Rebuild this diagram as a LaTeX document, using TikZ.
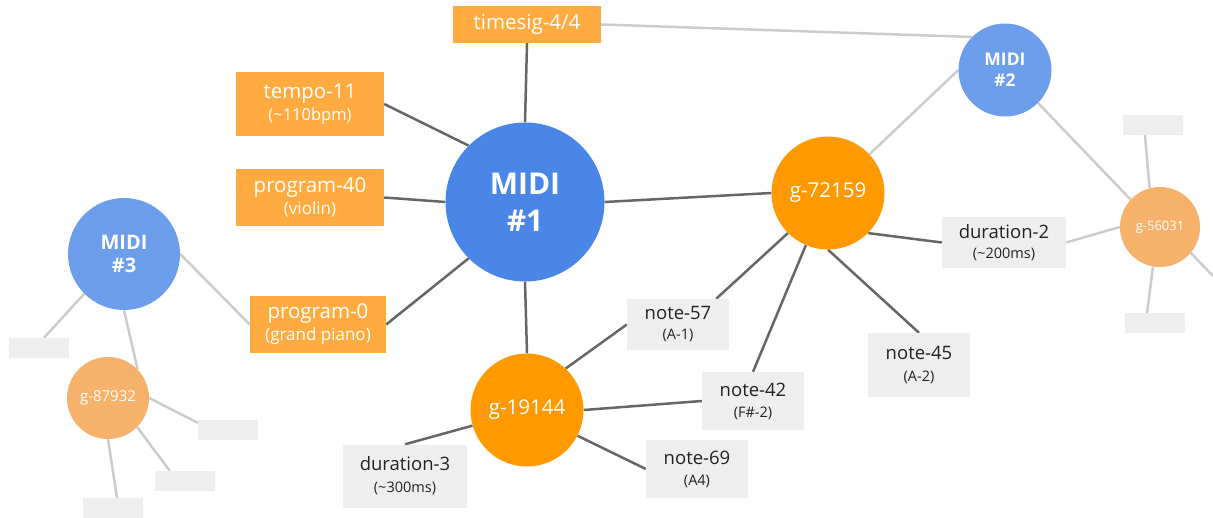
\documentclass[tikz,border=0pt]{standalone}
\usepackage{fontspec}
\setmainfont{Open Sans}
\usetikzlibrary{backgrounds}

\definecolor{midiblue}{HTML}{4A86E8}
\definecolor{midilight}{HTML}{6D9EEB}
\definecolor{grouporange}{HTML}{FF9900}
\definecolor{grouplight}{HTML}{F6B26B}
\definecolor{eventorange}{HTML}{FFAB40}
\definecolor{notegrey}{HTML}{EEEEEE}
\definecolor{linkdark}{HTML}{666666}
\definecolor{linklight}{HTML}{CCCCCC}
\definecolor{inktext}{HTML}{222222}

\newcommand{\setfs}[2]{\fontsize{#1}{#2}\selectfont}

\tikzset{
  midinode/.style={circle, inner sep=0pt, text=white, align=center},
  groupnode/.style={circle, inner sep=0pt, text=white, align=center},
  eventbox/.style={rectangle, fill=eventorange, text=white, inner sep=0pt, align=center},
  notebox/.style={rectangle, fill=notegrey, text=inktext, inner sep=0pt, align=center},
  blankbox/.style={rectangle, fill=notegrey, minimum width=60pt, minimum height=20pt, inner sep=0pt},
  link/.style={draw=linkdark, line width=2.5pt},
  faint/.style={draw=linklight, line width=2.5pt}
}

\begin{document}
\begin{tikzpicture}[x=1pt, y=-1pt]
\useasboundingbox (0,0) rectangle (1213,518);

% MIDI files
\node[midinode, fill=midiblue, minimum size=159pt, font=\bfseries\setfs{30}{37}] (m1) at (525,202) {MIDI\\\#1};
\node[midinode, fill=midilight, minimum size=93pt, font=\bfseries\setfs{17.5}{21}] (m2) at (1005,70) {MIDI\\\#2};
\node[midinode, fill=midilight, minimum size=112pt, font=\bfseries\setfs{20}{23}] (m3) at (124,254) {MIDI\\\#3};

% note groups
\node[groupnode, fill=grouporange, minimum size=113pt, font=\setfs{20.5}{24}] (g72) at (828,193) {g-72159};
\node[groupnode, fill=grouporange, minimum size=113pt, font=\setfs{20.5}{24}] (g19) at (527,410) {g-19144};
\node[groupnode, fill=grouplight, minimum size=80pt, font=\setfs{13}{16}] (g56) at (1160,227) {g-56031};
\node[groupnode, fill=grouplight, minimum size=82pt, font=\setfs{15}{18}] (g87) at (108,398) {g-87932};

% file-level events
\node[eventbox, minimum width=148pt, minimum height=37pt, font=\setfs{20.5}{22}] (ts) at (527,24.5) {timesig-4/4};
\node[eventbox, minimum width=148pt, minimum height=64pt, font=\setfs{20.5}{22}] (tempo) at (310,104)
  {tempo-11\\{\setfs{16.5}{22}(\textasciitilde110bpm)}};
\node[eventbox, minimum width=148pt, minimum height=57pt, font=\setfs{20.5}{22}] (p40) at (310,197.5)
  {program-40\\{\setfs{17}{22}(violin)}};
\node[eventbox, minimum width=136pt, minimum height=57pt, font=\setfs{20.5}{22}] (p0) at (318,324.5)
  {program-0\\{\setfs{17}{22}(grand piano)}};

% note events
\node[notebox, minimum width=102pt, minimum height=51pt, font=\setfs{18.5}{20}] (n57) at (678,324.5)
  {note-57\\{\setfs{14.5}{20}(A-1)}};
\node[notebox, minimum width=102pt, minimum height=58pt, font=\setfs{18.5}{21}] (n42) at (753,401)
  {note-42\\{\setfs{14.5}{21}(F\#-2)}};
\node[notebox, minimum width=102pt, minimum height=58pt, font=\setfs{18.5}{21}] (n69) at (697,469)
  {note-69\\{\setfs{14.5}{21}(A4)}};
\node[notebox, minimum width=102pt, minimum height=64pt, font=\setfs{18.5}{22}] (n45) at (919,365)
  {note-45\\{\setfs{14.5}{22}(A-2)}};
\node[notebox, minimum width=124pt, minimum height=51pt, font=\setfs{18.5}{20}] (d2) at (1004,242.5)
  {duration-2\\{\setfs{14.5}{20}(\textasciitilde200ms)}};
\node[notebox, minimum width=124pt, minimum height=63pt, font=\setfs{18.5}{22}] (d3) at (405,476)
  {duration-3\\{\setfs{14.5}{22}(\textasciitilde300ms)}};

% unlabelled events
\node[blankbox] (bl1) at (39,348) {};
\node[blankbox] (bl2) at (228,430) {};
\node[blankbox] (bl3) at (185,481) {};
\node[blankbox] (bl4) at (113,508) {};
\node[blankbox] (br1) at (1153,125) {};
\node[blankbox] (br2) at (1155,323.5) {};
\coordinate (offr) at (1213,276);

\begin{pgfonlayer}{background}
  % MIDI #1 links
  \draw[link] (m1.north) -- (ts.south);
  \draw[link] (tempo.east) -- (m1.135);
  \draw[link] (p40.east) -- (m1.west);
  \draw[link] (p0.east) -- (m1.225);
  \draw[link] (m1.east) -- (g72.west);
  \draw[link] (m1.south) -- (g19.north);
  % g-72159 links
  \draw[link] (g72.-45) -- (d2.west);
  \draw[link] (g72.225) -- ([xshift=-13pt]n57.north east);
  \draw[link] (g72.247) -- (n42.north);
  \draw[link] (g72.south) -- (n45.north);
  % g-19144 links
  \draw[link] (g19.47) -- (n57.west);
  \draw[link] (g19.east) -- (n42.west);
  \draw[link] (g19.-27) -- (n69.west);
  \draw[link] (g19.196) -- (d3.north);
  % links to other files
  \draw[faint] (g72.43) -- (m2.west);
  \draw[faint] (ts.east) -- (m2.135);
  \draw[faint] (m2.-45) -- (g56.137);
  \draw[faint] (d2.east) -- (g56.west);
  \draw[faint] (g56.105) -- ([xshift=-8pt]br1.south);
  \draw[faint] (g56.-100) -- ([xshift=-8pt]br2.north);
  \draw[faint] (g56.-40) -- (offr);
  \draw[faint] (m3.east) -- (p0.west);
  \draw[faint] (m3.225) -- ([xshift=5pt]bl1.north);
  \draw[faint] (m3.south) -- (g87.44);
  \draw[faint] (g87.east) -- ([yshift=-3pt]bl2.north west);
  \draw[faint] (g87.-45) -- ([xshift=15pt]bl3.north west);
  \draw[faint] (g87.south) -- ([xshift=4pt]bl4.north);
\end{pgfonlayer}
\end{tikzpicture}
\end{document}
